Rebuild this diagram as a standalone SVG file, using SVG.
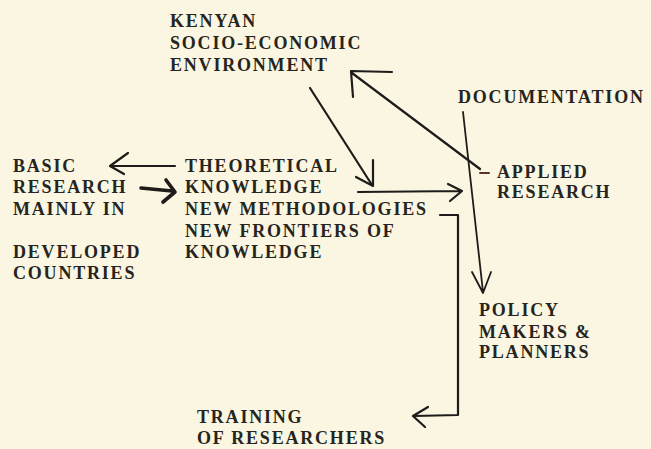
<svg xmlns="http://www.w3.org/2000/svg" width="651" height="449" viewBox="0 0 651 449">
<style>
.bg{fill:#faf6e1}
text{font-family:"Liberation Serif","Times New Roman",serif;font-weight:bold;font-size:18px;letter-spacing:1.8px;fill:#262420}
.ln{fill:none;stroke:#1e1c1a;stroke-width:2.2;stroke-linecap:round;stroke-linejoin:round}
.thick{stroke-width:3.6}
.thin{stroke-width:1.8}
</style>
<rect class="bg" x="0" y="0" width="651" height="449"/>
<g id="kenyan">
<text x="170" y="27">KENYAN</text>
<text x="170" y="49">SOCIO-ECONOMIC</text>
<text x="170" y="71">ENVIRONMENT</text>
</g>
<g id="documentation">
<text x="458" y="103">DOCUMENTATION</text>
</g>
<g id="applied">
<text x="497" y="178">APPLIED</text>
<text x="497" y="198">RESEARCH</text>
</g>
<g id="basic">
<text x="13" y="172">BASIC</text>
<text x="13" y="193">RESEARCH</text>
<text x="13" y="215">MAINLY IN</text>
<text x="13" y="258">DEVELOPED</text>
<text x="13" y="279">COUNTRIES</text>
</g>
<g id="theoretical">
<text x="185" y="172">THEORETICAL</text>
<text x="185" y="193">KNOWLEDGE</text>
<text x="185" y="215">NEW METHODOLOGIES</text>
<text x="185" y="237">NEW FRONTIERS OF</text>
<text x="185" y="258">KNOWLEDGE</text>
</g>
<g id="policy">
<text x="479" y="316">POLICY</text>
<text x="479" y="338">MAKERS &amp;</text>
<text x="479" y="358">PLANNERS</text>
</g>
<g id="training">
<text x="197" y="423">TRAINING</text>
<text x="197" y="444">OF RESEARCHERS</text>
</g>
<g id="connectors">
<path class="ln" d="M175,166 L111,166 M128,153 L110,166 L124,174"/>
<path class="ln thick" d="M141,188 L172,191 M166,180 L175,192 L163,202"/>
<path class="ln" d="M310,88 L372,185 M373,160 L373,186 L356,177"/>
<path class="ln" d="M358,192 L462,191 M448,184 L462,191 L450,201"/>
<path class="ln" d="M352,73 L480,169 M392,72 L351,71 L353,97"/>
<path d="M480,173 L489,173" stroke="#5a3422" stroke-width="2" stroke-linecap="round"/>
<path class="ln thin" d="M463,112 L483,292 M472,272 L483,293 L491,272"/>
<path class="ln" d="M440,215 L458,215 L458,415 L414,416 M428,407 L413,416 L425,427"/>
</g>
</svg>
